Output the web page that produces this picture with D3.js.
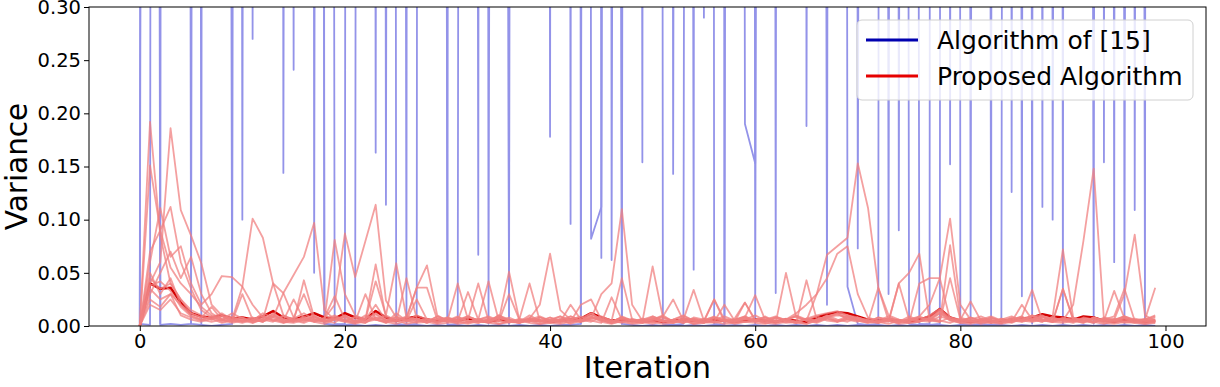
<!DOCTYPE html>
<html>
<head>
<meta charset="utf-8">
<script src="https://cdn.jsdelivr.net/npm/d3@7"></script>
<style>
  body { margin: 0; background: #fff; }
  svg { display: block; font-family: "DejaVu Sans", sans-serif; }
</style>
</head>
<body>
<div id="chart"></div>
<script>
// iteration index shared by every run
const iterations = d3.range(100);

const xTicks = [0, 20, 40, 60, 80, 100];
const yTicks = [0, 0.05, 0.10, 0.15, 0.20, 0.25, 0.30];
const legendLabels = ["Algorithm of [15]", "Proposed Algorithm"];

// Algorithm of [15] - runs blow up far past the top of the axis
const baselineRun1 = [
  0.002, 8.1, 0.001, 0.002, 0.001, 0.002, 6.2, 12.8, 4.7, 0.002,
  9.4, 0.27, 7.3, 11.2, 0.144, 5.6, 15.3, 0.05, 6.2, 0.002,
  0.001, 0.002, 8.1, 0.163, 9.4, 0.002, 0.001, 0.002, 12.8, 4.7,
  0.001, 0.002, 7.3, 0.067, 11.2, 5.6, 0.002, 15.3, 6.2, 8.1,
  0.178, 9.4, 0.096, 12.8, 0.082, 0.112, 4.7, 0.002, 7.3, 0.154,
  11.2, 0.002, 0.001, 0.002, 5.6, 0.29, 15.3, 0.002, 6.2, 0.19,
  0.153, 8.1, 0.031, 9.4, 12.8, 0.188, 4.7, 0.02, 7.3, 0.037,
  0.002, 0.001, 0.002, 11.2, 0.09, 5.6, 0.002, 0.001, 0.002, 15.3,
  0.002, 0.001, 0.002, 0.001, 0.002, 6.2, 0.028, 8.1, 0.112, 9.4,
  0.002, 12.8, 4.7, 0.002, 7.3, 0.06, 11.2, 0.109, 5.6, 15.3
];
const baselineRun2 = [
  0.002, 0.001, 9.4, 5.6, 12.8, 7.3, 0.002, 11.2, 4.7, 8.1,
  0.10, 6.2, 15.3, 9.4, 5.6, 0.241, 12.8, 7.3, 0.002, 0.001,
  0.002, 11.2, 4.7, 8.1, 0.114, 6.2, 0.002, 15.3, 9.4, 5.6,
  0.002, 12.8, 7.3, 11.2, 0.002, 4.7, 0.002, 8.1, 6.2, 15.3,
  9.4, 5.6, 12.8, 0.002, 7.3, 11.2, 0.062, 4.7, 8.1, 6.2,
  15.3, 9.4, 0.143, 5.6, 0.053, 12.8, 0.002, 0.001, 7.3, 11.2,
  0.002, 4.7, 8.1, 6.2, 15.3, 9.4, 5.6, 12.8, 7.3, 11.2,
  0.073, 4.7, 8.1, 0.03, 6.2, 0.002, 0.001, 0.002, 15.3, 0.152,
  9.4, 0.002, 5.6, 0.002, 12.8, 0.126, 7.3, 0.002, 11.2, 0.10,
  4.7, 8.1, 6.2, 15.3, 0.154, 9.4, 0.002, 5.6, 0.002, 12.8
];
const baselineRun3 = [
  0.002, 4.7, 0.002, 11.2, 6.2, 0.002, 0.001, 0.000, 0.001, 0.002,
  8.1, 12.8, 5.6, 9.4, 7.3, 15.3, 6.2, 11.2, 0.002, 0.001,
  0.000, 0.001, 0.000, 0.001, 0.000, 0.001, 0.000, 0.001, 0.000, 0.001,
  0.000, 0.001, 0.000, 0.001, 0.000, 0.001, 0.000, 0.001, 0.000, 0.001,
  0.000, 0.001, 0.001, 0.002, 9.4, 0.064, 8.1, 0.002, 0.001, 0.000,
  0.001, 0.000, 0.001, 0.000, 0.001, 0.000, 0.001, 0.000, 0.001, 0.000,
  0.001, 0.000, 0.001, 0.000, 0.001, 0.000, 0.001, 0.000, 0.001, 0.000,
  0.001, 0.000, 0.001, 0.000, 0.001, 0.000, 0.001, 0.000, 0.001, 0.000,
  0.001, 0.000, 0.001, 0.000, 0.001, 0.000, 0.001, 0.000, 0.001, 0.000,
  0.001, 0.000, 0.001, 0.000, 0.001, 0.000, 0.001, 0.000, 0.001, 0.000
];

// Proposed Algorithm - individual runs
const proposedRun1 = [
  0.000, 0.192, 0.085, 0.040, 0.025, 0.012, 0.008, 0.006, 0.010, 0.004,
  0.006, 0.005, 0.012, 0.008, 0.031, 0.048, 0.065, 0.097, 0.015, 0.006,
  0.008, 0.004, 0.010, 0.006, 0.003, 0.012, 0.005, 0.007, 0.004, 0.009,
  0.005, 0.003, 0.008, 0.006, 0.004, 0.010, 0.005, 0.003, 0.007, 0.004,
  0.006, 0.004, 0.009, 0.005, 0.012, 0.006, 0.004, 0.008, 0.005, 0.003,
  0.007, 0.004, 0.006, 0.010, 0.005, 0.003, 0.008, 0.006, 0.004, 0.007,
  0.005, 0.009, 0.004, 0.006, 0.012, 0.020, 0.030, 0.067, 0.075, 0.083,
  0.153, 0.111, 0.036, 0.010, 0.006, 0.004, 0.008, 0.005, 0.012, 0.007,
  0.004, 0.006, 0.009, 0.005, 0.003, 0.007, 0.004, 0.010, 0.006, 0.004,
  0.008, 0.005, 0.003, 0.007, 0.004, 0.006, 0.009, 0.005, 0.007, 0.004
];
const proposedRun2 = [
  0.000, 0.040, 0.060, 0.186, 0.109, 0.085, 0.059, 0.020, 0.010, 0.006,
  0.004, 0.008, 0.005, 0.010, 0.006, 0.004, 0.009, 0.005, 0.007, 0.020,
  0.087, 0.046, 0.080, 0.114, 0.024, 0.008, 0.005, 0.010, 0.006, 0.004,
  0.007, 0.004, 0.009, 0.005, 0.003, 0.008, 0.006, 0.004, 0.010, 0.005,
  0.003, 0.007, 0.005, 0.004, 0.008, 0.006, 0.003, 0.009, 0.005, 0.004,
  0.006, 0.010, 0.004, 0.007, 0.005, 0.003, 0.008, 0.004, 0.006, 0.009,
  0.005, 0.004, 0.007, 0.005, 0.010, 0.006, 0.004, 0.008, 0.012, 0.006,
  0.004, 0.007, 0.005, 0.009, 0.004, 0.006, 0.008, 0.005, 0.015, 0.006,
  0.004, 0.008, 0.005, 0.003, 0.007, 0.005, 0.009, 0.004, 0.006, 0.008,
  0.005, 0.020, 0.080, 0.148, 0.006, 0.004, 0.008, 0.005, 0.003, 0.006
];
const proposedRun3 = [
  0.000, 0.151, 0.090, 0.112, 0.060, 0.035, 0.015, 0.008, 0.012, 0.006,
  0.037, 0.101, 0.083, 0.040, 0.010, 0.005, 0.008, 0.004, 0.006, 0.010,
  0.005, 0.003, 0.008, 0.006, 0.004, 0.009, 0.005, 0.007, 0.004, 0.006,
  0.008, 0.005, 0.003, 0.007, 0.004, 0.010, 0.006, 0.004, 0.008, 0.005,
  0.004, 0.006, 0.009, 0.005, 0.007, 0.030, 0.040, 0.110, 0.020, 0.005,
  0.008, 0.004, 0.006, 0.003, 0.007, 0.005, 0.009, 0.004, 0.006, 0.008,
  0.004, 0.006, 0.009, 0.005, 0.003, 0.007, 0.005, 0.010, 0.006, 0.004,
  0.008, 0.005, 0.003, 0.007, 0.006, 0.004, 0.009, 0.020, 0.045, 0.101,
  0.020, 0.006, 0.004, 0.008, 0.005, 0.003, 0.007, 0.005, 0.009, 0.004,
  0.006, 0.008, 0.005, 0.003, 0.007, 0.005, 0.009, 0.004, 0.006, 0.010
];
const proposedRun4 = [
  0.000, 0.060, 0.111, 0.065, 0.075, 0.040, 0.020, 0.030, 0.047, 0.046,
  0.037, 0.020, 0.008, 0.005, 0.010, 0.006, 0.004, 0.009, 0.005, 0.081,
  0.030, 0.010, 0.006, 0.058, 0.008, 0.005, 0.009, 0.004, 0.006, 0.003,
  0.007, 0.005, 0.009, 0.004, 0.006, 0.008, 0.005, 0.003, 0.007, 0.020,
  0.068, 0.015, 0.006, 0.004, 0.008, 0.005, 0.003, 0.007, 0.004, 0.006,
  0.009, 0.005, 0.004, 0.007, 0.006, 0.003, 0.008, 0.005, 0.004, 0.006,
  0.010, 0.005, 0.003, 0.050, 0.008, 0.005, 0.004, 0.007, 0.005, 0.009,
  0.006, 0.004, 0.008, 0.005, 0.003, 0.007, 0.005, 0.004, 0.009, 0.006,
  0.005, 0.008, 0.004, 0.006, 0.003, 0.007, 0.005, 0.010, 0.006, 0.004,
  0.007, 0.005, 0.003, 0.008, 0.005, 0.006, 0.030, 0.086, 0.010, 0.005
];
const proposedRun5 = [
  0.000, 0.030, 0.050, 0.070, 0.045, 0.065, 0.030, 0.012, 0.006, 0.009,
  0.005, 0.008, 0.004, 0.012, 0.006, 0.004, 0.043, 0.008, 0.005, 0.007,
  0.004, 0.009, 0.006, 0.042, 0.010, 0.059, 0.008, 0.036, 0.057, 0.010,
  0.005, 0.008, 0.004, 0.006, 0.009, 0.005, 0.051, 0.006, 0.004, 0.008,
  0.005, 0.003, 0.007, 0.004, 0.006, 0.009, 0.005, 0.045, 0.006, 0.004,
  0.056, 0.008, 0.005, 0.003, 0.007, 0.004, 0.006, 0.009, 0.005, 0.004,
  0.006, 0.008, 0.004, 0.006, 0.009, 0.005, 0.030, 0.045, 0.068, 0.075,
  0.030, 0.008, 0.005, 0.004, 0.040, 0.050, 0.068, 0.006, 0.004, 0.076,
  0.008, 0.005, 0.003, 0.007, 0.005, 0.004, 0.008, 0.006, 0.004, 0.009,
  0.072, 0.008, 0.005, 0.004, 0.007, 0.005, 0.009, 0.006, 0.004, 0.008
];
const proposedRun6 = [
  0.000, 0.045, 0.035, 0.040, 0.025, 0.015, 0.010, 0.006, 0.009, 0.005,
  0.008, 0.004, 0.006, 0.040, 0.031, 0.008, 0.005, 0.009, 0.004, 0.006,
  0.010, 0.005, 0.003, 0.008, 0.006, 0.004, 0.045, 0.007, 0.004, 0.009,
  0.005, 0.040, 0.006, 0.040, 0.005, 0.008, 0.004, 0.006, 0.040, 0.005,
  0.008, 0.004, 0.006, 0.009, 0.005, 0.003, 0.027, 0.006, 0.004, 0.007,
  0.005, 0.009, 0.004, 0.006, 0.034, 0.005, 0.025, 0.004, 0.007, 0.022,
  0.006, 0.004, 0.008, 0.005, 0.003, 0.043, 0.006, 0.009, 0.004, 0.007,
  0.005, 0.003, 0.008, 0.006, 0.004, 0.009, 0.005, 0.007, 0.004, 0.045,
  0.006, 0.023, 0.005, 0.008, 0.004, 0.006, 0.009, 0.034, 0.005, 0.004,
  0.035, 0.006, 0.004, 0.008, 0.005, 0.033, 0.007, 0.004, 0.006, 0.036
];
const proposedRun7 = [
  0.000, 0.035, 0.025, 0.030, 0.020, 0.012, 0.008, 0.018, 0.006, 0.004,
  0.030, 0.006, 0.004, 0.009, 0.005, 0.025, 0.006, 0.004, 0.008, 0.028,
  0.006, 0.004, 0.030, 0.006, 0.004, 0.008, 0.005, 0.025, 0.006, 0.004,
  0.008, 0.005, 0.032, 0.006, 0.042, 0.005, 0.008, 0.004, 0.006, 0.009,
  0.005, 0.004, 0.020, 0.006, 0.004, 0.008, 0.005, 0.003, 0.007, 0.004,
  0.006, 0.009, 0.025, 0.005, 0.003, 0.007, 0.004, 0.020, 0.005, 0.008,
  0.029, 0.005, 0.003, 0.007, 0.004, 0.006, 0.009, 0.005, 0.004, 0.008,
  0.006, 0.004, 0.036, 0.005, 0.040, 0.006, 0.004, 0.008, 0.005, 0.003,
  0.007, 0.004, 0.006, 0.009, 0.005, 0.004, 0.020, 0.006, 0.004, 0.008,
  0.005, 0.003, 0.007, 0.004, 0.006, 0.009, 0.035, 0.005, 0.004, 0.006
];
const proposedRun8 = [
  0.000, 0.070, 0.090, 0.055, 0.040, 0.030, 0.018, 0.010, 0.006, 0.012,
  0.007, 0.004, 0.009, 0.006, 0.004, 0.008, 0.030, 0.006, 0.004, 0.009,
  0.005, 0.008, 0.004, 0.006, 0.010, 0.005, 0.007, 0.036, 0.036, 0.006,
  0.004, 0.008, 0.005, 0.003, 0.007, 0.004, 0.030, 0.006, 0.004, 0.008,
  0.005, 0.009, 0.004, 0.020, 0.025, 0.006, 0.004, 0.008, 0.005, 0.003,
  0.007, 0.004, 0.006, 0.009, 0.005, 0.004, 0.025, 0.006, 0.004, 0.022,
  0.005, 0.008, 0.004, 0.006, 0.009, 0.005, 0.003, 0.007, 0.004, 0.006,
  0.008, 0.005, 0.004, 0.007, 0.005, 0.003, 0.040, 0.045, 0.045, 0.006,
  0.004, 0.008, 0.005, 0.003, 0.007, 0.004, 0.006, 0.009, 0.005, 0.004,
  0.035, 0.006, 0.004, 0.008, 0.005, 0.003, 0.007, 0.004, 0.006, 0.009
];
const proposedRun9 = [
  0.000, 0.050, 0.030, 0.045, 0.020, 0.010, 0.006, 0.009, 0.005, 0.008,
  0.004, 0.006, 0.010, 0.005, 0.003, 0.007, 0.012, 0.006, 0.004, 0.008,
  0.005, 0.003, 0.007, 0.012, 0.005, 0.004, 0.008, 0.006, 0.003, 0.007,
  0.004, 0.006, 0.009, 0.005, 0.004, 0.008, 0.005, 0.003, 0.007, 0.004,
  0.006, 0.009, 0.005, 0.004, 0.008, 0.006, 0.003, 0.007, 0.005, 0.004,
  0.009, 0.005, 0.003, 0.007, 0.004, 0.006, 0.008, 0.005, 0.004, 0.007,
  0.005, 0.003, 0.008, 0.006, 0.004, 0.007, 0.005, 0.009, 0.012, 0.010,
  0.008, 0.005, 0.003, 0.007, 0.004, 0.006, 0.009, 0.005, 0.004, 0.008,
  0.005, 0.003, 0.007, 0.004, 0.006, 0.009, 0.005, 0.004, 0.008, 0.006,
  0.004, 0.007, 0.005, 0.003, 0.008, 0.006, 0.004, 0.007, 0.005, 0.003
];
const proposedRun10 = [
  0.000, 0.020, 0.015, 0.025, 0.012, 0.008, 0.005, 0.009, 0.004, 0.006,
  0.008, 0.003, 0.006, 0.004, 0.009, 0.005, 0.003, 0.007, 0.004, 0.006,
  0.009, 0.004, 0.006, 0.020, 0.005, 0.008, 0.004, 0.006, 0.003, 0.007,
  0.005, 0.009, 0.004, 0.006, 0.008, 0.005, 0.003, 0.007, 0.005, 0.004,
  0.008, 0.005, 0.003, 0.007, 0.012, 0.006, 0.004, 0.008, 0.005, 0.006,
  0.004, 0.007, 0.005, 0.003, 0.008, 0.006, 0.004, 0.007, 0.005, 0.009,
  0.004, 0.006, 0.008, 0.005, 0.003, 0.007, 0.010, 0.012, 0.014, 0.010,
  0.006, 0.004, 0.008, 0.005, 0.003, 0.007, 0.005, 0.010, 0.016, 0.008,
  0.006, 0.004, 0.007, 0.005, 0.003, 0.008, 0.006, 0.009, 0.010, 0.005,
  0.007, 0.004, 0.008, 0.006, 0.004, 0.007, 0.005, 0.003, 0.006, 0.004
];
const proposedRun11 = [
  0.000, 0.025, 0.018, 0.030, 0.010, 0.006, 0.004, 0.007, 0.003, 0.005,
  0.003, 0.006, 0.004, 0.008, 0.003, 0.005, 0.007, 0.004, 0.002, 0.006,
  0.004, 0.002, 0.005, 0.008, 0.003, 0.006, 0.002, 0.004, 0.007, 0.003,
  0.005, 0.002, 0.004, 0.003, 0.006, 0.002, 0.004, 0.005, 0.003, 0.002,
  0.004, 0.006, 0.002, 0.005, 0.009, 0.004, 0.002, 0.005, 0.003, 0.004,
  0.002, 0.005, 0.003, 0.006, 0.002, 0.004, 0.003, 0.005, 0.002, 0.004,
  0.003, 0.002, 0.005, 0.003, 0.004, 0.002, 0.006, 0.009, 0.011, 0.008,
  0.005, 0.003, 0.004, 0.002, 0.005, 0.003, 0.004, 0.007, 0.012, 0.005,
  0.003, 0.005, 0.002, 0.004, 0.003, 0.005, 0.004, 0.006, 0.009, 0.004,
  0.003, 0.005, 0.007, 0.004, 0.002, 0.005, 0.003, 0.004, 0.002, 0.003
];
const proposedRun12 = [
  0.000, 0.038, 0.042, 0.033, 0.018, 0.009, 0.006, 0.004, 0.006, 0.003,
  0.005, 0.003, 0.007, 0.011, 0.004, 0.003, 0.006, 0.010, 0.005, 0.003,
  0.010, 0.004, 0.003, 0.011, 0.004, 0.002, 0.005, 0.003, 0.004, 0.002,
  0.003, 0.004, 0.002, 0.005, 0.003, 0.002, 0.004, 0.003, 0.005, 0.002,
  0.003, 0.002, 0.004, 0.005, 0.010, 0.007, 0.003, 0.004, 0.002, 0.003,
  0.004, 0.002, 0.003, 0.005, 0.002, 0.003, 0.004, 0.002, 0.003, 0.004,
  0.005, 0.003, 0.002, 0.004, 0.003, 0.002, 0.005, 0.008, 0.010, 0.009,
  0.007, 0.004, 0.003, 0.005, 0.002, 0.003, 0.004, 0.008, 0.014, 0.006,
  0.003, 0.002, 0.004, 0.003, 0.002, 0.004, 0.006, 0.007, 0.009, 0.007,
  0.006, 0.004, 0.007, 0.006, 0.003, 0.002, 0.004, 0.003, 0.002, 0.004
];
// dense core of the proposed runs (darker red band near zero)
const proposedMean = [
  0.000, 0.040, 0.035, 0.036, 0.022, 0.012, 0.009, 0.008, 0.010, 0.007,
  0.008, 0.006, 0.009, 0.014, 0.008, 0.006, 0.009, 0.012, 0.008, 0.007,
  0.012, 0.008, 0.006, 0.014, 0.008, 0.005, 0.007, 0.009, 0.006, 0.005,
  0.006, 0.005, 0.007, 0.005, 0.004, 0.006, 0.005, 0.004, 0.006, 0.005,
  0.004, 0.005, 0.006, 0.007, 0.012, 0.008, 0.005, 0.006, 0.005, 0.004,
  0.005, 0.004, 0.005, 0.006, 0.005, 0.004, 0.006, 0.005, 0.004, 0.005,
  0.006, 0.005, 0.004, 0.006, 0.005, 0.004, 0.008, 0.011, 0.013, 0.012,
  0.009, 0.006, 0.005, 0.006, 0.005, 0.004, 0.006, 0.009, 0.016, 0.008,
  0.005, 0.004, 0.005, 0.004, 0.005, 0.006, 0.007, 0.008, 0.011, 0.009,
  0.008, 0.006, 0.009, 0.008, 0.005, 0.004, 0.006, 0.005, 0.004, 0.005
];

const baselineRuns = [baselineRun1, baselineRun2, baselineRun3];
const proposedRuns = [proposedRun1, proposedRun2, proposedRun3, proposedRun4, proposedRun5,
  proposedRun6, proposedRun7, proposedRun8, proposedRun9, proposedRun10,
  proposedRun11, proposedRun12];

const width = 1220;
const height = 387;
const plotLeft = 89, plotRight = 1206, plotTop = 7, plotBottom = 326;

const x = d3.scaleLinear().domain([-4.95, 103.95]).range([plotLeft, plotRight]);
const y = d3.scaleLinear().domain([0, 0.30]).range([plotBottom, plotTop]);

const svg = d3.select("#chart").append("svg")
  .attr("width", width)
  .attr("height", height);

svg.append("defs").append("clipPath")
  .attr("id", "plot-clip")
  .append("rect")
  .attr("x", plotLeft)
  .attr("y", plotTop)
  .attr("width", plotRight - plotLeft)
  .attr("height", plotBottom - plotTop);

const line = d3.line()
  .x((d, i) => x(iterations[i]))
  .y(d => y(d));

const plot = svg.append("g").attr("clip-path", "url(#plot-clip)");

// blue runs first (one translucent layer), then the dark red core, pink runs on top
plot.append("g")
  .attr("opacity", 0.42)
  .selectAll(".baseline")
  .data(baselineRuns)
  .enter()
  .append("path")
  .attr("class", "baseline")
  .attr("d", line)
  .attr("fill", "none")
  .attr("stroke", "#0000cc")
  .attr("stroke-width", 1.8)
  .attr("stroke-linejoin", "round");

plot.append("path")
  .datum(proposedMean)
  .attr("d", line)
  .attr("fill", "none")
  .attr("stroke", "#d40000")
  .attr("stroke-width", 2.6)
  .attr("stroke-linejoin", "round");

plot.selectAll(".proposed")
  .data(proposedRuns)
  .enter()
  .append("path")
  .attr("class", "proposed")
  .attr("d", line)
  .attr("fill", "none")
  .attr("stroke", "#f08080")
  .attr("stroke-opacity", 0.75)
  .attr("stroke-width", 1.8)
  .attr("stroke-linejoin", "round");

// axes
svg.append("g")
  .attr("transform", `translate(0,${plotBottom})`)
  .call(d3.axisBottom(x).tickValues(xTicks).tickSize(5).tickPadding(3).tickFormat(d3.format("d")))
  .call(g => g.select(".domain").remove())
  .attr("font-size", 19.5)
  .attr("font-family", "DejaVu Sans, sans-serif");

svg.append("g")
  .attr("transform", `translate(${plotLeft},0)`)
  .call(d3.axisLeft(y).tickValues(yTicks).tickSize(5).tickPadding(3).tickFormat(d3.format(".2f")))
  .call(g => g.select(".domain").remove())
  .attr("font-size", 19.5)
  .attr("font-family", "DejaVu Sans, sans-serif");

// frame
svg.append("rect")
  .attr("x", plotLeft)
  .attr("y", plotTop)
  .attr("width", plotRight - plotLeft)
  .attr("height", plotBottom - plotTop)
  .attr("fill", "none")
  .attr("stroke", "#000")
  .attr("stroke-width", 1);

// axis titles
svg.append("text")
  .attr("x", (plotLeft + plotRight) / 2)
  .attr("y", 378)
  .attr("text-anchor", "middle")
  .attr("font-size", 30)
  .text("Iteration");

svg.append("text")
  .attr("transform", `translate(27,${(plotTop + plotBottom) / 2}) rotate(-90)`)
  .attr("text-anchor", "middle")
  .attr("font-size", 29.5)
  .text("Variance");

// legend
const legend = svg.append("g");
legend.append("rect")
  .attr("x", 857)
  .attr("y", 20)
  .attr("width", 336)
  .attr("height", 80)
  .attr("rx", 5)
  .attr("fill", "#fff")
  .attr("fill-opacity", 0.8)
  .attr("stroke", "#d0d0d0");

const legendColors = ["#0000b0", "#e60000"];
legendLabels.forEach((label, i) => {
  const cy = 40 + i * 36;
  legend.append("line")
    .attr("x1", 866).attr("x2", 918)
    .attr("y1", cy).attr("y2", cy)
    .attr("stroke", legendColors[i])
    .attr("stroke-width", 3.2);
  legend.append("text")
    .attr("x", 937)
    .attr("y", cy + 8.5)
    .attr("font-size", 25)
    .attr("fill", "#000")
    .text(label);
});
</script>
</body>
</html>
